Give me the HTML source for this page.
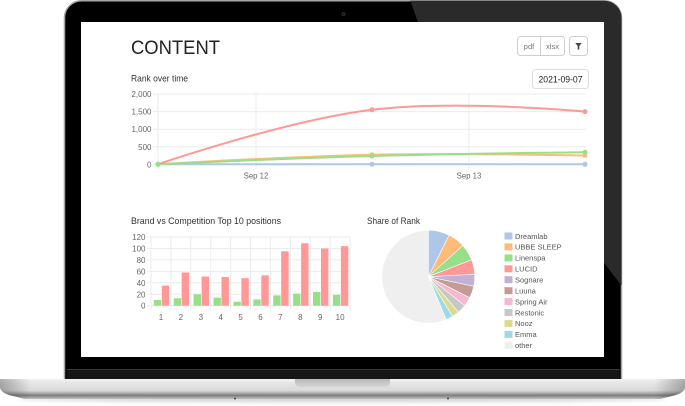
<!DOCTYPE html>
<html>
<head>
<meta charset="utf-8">
<style>
  html,body{margin:0;padding:0;background:#fff;}
  body{width:685px;height:406px;overflow:hidden;}
  svg{display:block;}
  text{font-family:"Liberation Sans", Arial, sans-serif;}
</style>
</head>
<body>
<svg width="685" height="406" viewBox="0 0 685 406" xmlns="http://www.w3.org/2000/svg">
  <defs>
    <clipPath id="lidclip">
      <rect x="64.5" y="0.8" width="557" height="395" rx="17"/>
    </clipPath>
    <linearGradient id="bv" x1="0" y1="0" x2="0" y2="1">
      <stop offset="0" stop-color="#f4f4f4"/>
      <stop offset="0.15" stop-color="#e8e8e8"/>
      <stop offset="0.58" stop-color="#d9d9d9"/>
      <stop offset="0.7" stop-color="#b0b0b0"/>
      <stop offset="0.82" stop-color="#7c7c7c"/>
      <stop offset="1" stop-color="#c4c4c4"/>
    </linearGradient>
    <linearGradient id="bh" x1="0" y1="0" x2="1" y2="0">
      <stop offset="0" stop-color="#000" stop-opacity="0.28"/>
      <stop offset="0.045" stop-color="#000" stop-opacity="0"/>
      <stop offset="0.955" stop-color="#000" stop-opacity="0"/>
      <stop offset="1" stop-color="#000" stop-opacity="0.28"/>
    </linearGradient>
    <linearGradient id="notch" x1="0" y1="0" x2="0" y2="1">
      <stop offset="0" stop-color="#b8b8b8"/>
      <stop offset="1" stop-color="#d6d6d6"/>
    </linearGradient>
    <filter id="blur" x="-10%" y="-200%" width="120%" height="500%">
      <feGaussianBlur stdDeviation="2"/>
    </filter>
  </defs>

  <!-- shadow under base -->
  <ellipse cx="342" cy="399" rx="325" ry="3" fill="#000" opacity="0.18" filter="url(#blur)"/>

  <!-- lid -->
  <rect x="64.5" y="0.8" width="557" height="395" rx="17" fill="#000" stroke="#a6a6a6" stroke-width="1.5"/>
  <g clip-path="url(#lidclip)">
    <polygon points="410,0 625,0 625,290 418,22" fill="#2a2a2a"/>
  </g>
  <!-- camera -->
  <circle cx="343.5" cy="14" r="2" fill="#2c2c2c"/>
  <circle cx="343.5" cy="14" r="0.9" fill="#111"/>
  <!-- hinge -->
  <rect x="66.5" y="369" width="553" height="10" fill="#161616"/>
  <line x1="66.5" y1="369.5" x2="619.5" y2="369.5" stroke="#3a3a3a" stroke-width="1"/>

  <!-- screen -->
  <rect x="81" y="22" width="523" height="335" fill="#fff"/>

  <!-- base -->
  <path d="M0,379 H685 V387 Q685,393 672,396 L660,399 H25 L13,396 Q0,393 0,387 Z" fill="url(#bv)"/>
  <path d="M0,379 H685 V387 Q685,393 672,396 L660,399 H25 L13,396 Q0,393 0,387 Z" fill="url(#bh)"/>
  <path d="M295,379 H390 V382 Q390,387 385,387 H300 Q295,387 295,382 Z" fill="url(#notch)"/>
  <circle cx="235" cy="398.5" r="1" fill="#444"/>
  <circle cx="448" cy="398.5" r="1" fill="#444"/>

  <!-- ============ DASHBOARD ============ -->
  <text x="131" y="54" font-size="19" fill="#222" textLength="89" lengthAdjust="spacingAndGlyphs">CONTENT</text>

  <!-- buttons -->
  <rect x="517.5" y="36.5" width="47" height="19" rx="3" fill="#fff" stroke="#cfcfcf"/>
  <line x1="540.5" y1="36.5" x2="540.5" y2="55.5" stroke="#cfcfcf"/>
  <text x="529" y="49" font-size="7.5" fill="#777" text-anchor="middle">pdf</text>
  <text x="552.5" y="49" font-size="7.5" fill="#777" text-anchor="middle">xlsx</text>
  <rect x="569.5" y="36.5" width="18" height="19" rx="3" fill="#fff" stroke="#cfcfcf"/>
  <polygon points="575.3,43 581.7,43 579.3,46 579.3,49.5 577.7,49.5 577.7,46" fill="#444"/>

  <!-- Rank over time -->
  <text x="131" y="81.5" font-size="9.5" fill="#333" textLength="57" lengthAdjust="spacingAndGlyphs">Rank over time</text>
  <rect x="532.5" y="69.5" width="56" height="19" rx="3" fill="#fff" stroke="#dedede"/>
  <text x="560.5" y="82.3" font-size="9" fill="#222" text-anchor="middle" textLength="44" lengthAdjust="spacingAndGlyphs">2021-09-07</text>

  <g stroke="#ebebeb" stroke-width="1">
    <line x1="153" y1="94" x2="586" y2="94"/>
    <line x1="153" y1="111.6" x2="586" y2="111.6"/>
    <line x1="153" y1="129.2" x2="586" y2="129.2"/>
    <line x1="153" y1="146.8" x2="586" y2="146.8"/>
    <line x1="153" y1="164.3" x2="586" y2="164.3"/>
    <line x1="158" y1="94" x2="158" y2="169"/>
    <line x1="256" y1="94" x2="256" y2="169"/>
    <line x1="469" y1="94" x2="469" y2="169"/>
  </g>
  <g font-size="8" fill="#666" text-anchor="end">
    <text x="151.5" y="97">2,000</text>
    <text x="151.5" y="114.6">1,500</text>
    <text x="151.5" y="132.2">1,000</text>
    <text x="151.5" y="149.8">500</text>
    <text x="151.5" y="167.3">0</text>
  </g>
  <g font-size="7.8" fill="#666" text-anchor="middle">
    <text x="256" y="178.5">Sep 12</text>
    <text x="469" y="178.5">Sep 13</text>
  </g>
  <g fill="none" stroke-width="2">
    <path d="M158,164.3 L585,164.3" stroke="#aec7e8"/>
    <path d="M158,164.3 C158,164.3 286.3,156.5 372,154.7 C457.1,152.95 585,155.5 585,155.5" stroke="#ffbb78"/>
    <path d="M158,164.3 C158,164.3 286.3,158.4 372,156 C457.1,153.6 585,152.3 585,152.3" stroke="#98df8a"/>
    <path d="M158,164.3 C158,164.3 285.1,120.5 372,109.8 C455.9,99.45 585,111.6 585,111.6" stroke="#ff9896"/>
  </g>
  <g>
    <circle cx="158" cy="164.3" r="2.5" fill="#aec7e8"/><circle cx="372" cy="164.3" r="2.5" fill="#aec7e8"/><circle cx="585" cy="164.3" r="2.5" fill="#aec7e8"/>
    <circle cx="372" cy="154.7" r="2.5" fill="#ffbb78"/><circle cx="585" cy="155.5" r="2.5" fill="#ffbb78"/>
    <circle cx="158" cy="164.3" r="2.5" fill="#98df8a"/><circle cx="372" cy="156" r="2.5" fill="#98df8a"/><circle cx="585" cy="152.3" r="2.5" fill="#98df8a"/>
    <circle cx="372" cy="109.8" r="2.5" fill="#ff9896"/><circle cx="585" cy="111.6" r="2.5" fill="#ff9896"/>
  </g>

  <!-- Bar chart -->
  <text x="131" y="224" font-size="9.5" fill="#333" textLength="150" lengthAdjust="spacingAndGlyphs">Brand vs Competition Top 10 positions</text>
  <g stroke="#ebebeb" stroke-width="1">
    <line x1="147" y1="237" x2="350" y2="237"/>
    <line x1="147" y1="248.45" x2="350" y2="248.45"/>
    <line x1="147" y1="259.9" x2="350" y2="259.9"/>
    <line x1="147" y1="271.35" x2="350" y2="271.35"/>
    <line x1="147" y1="282.8" x2="350" y2="282.8"/>
    <line x1="147" y1="294.25" x2="350" y2="294.25"/>
    <line x1="147" y1="305.7" x2="350" y2="305.7"/>
    <line x1="151" y1="237" x2="151" y2="310"/>
    <line x1="170.9" y1="237" x2="170.9" y2="310"/>
    <line x1="190.8" y1="237" x2="190.8" y2="310"/>
    <line x1="210.7" y1="237" x2="210.7" y2="310"/>
    <line x1="230.6" y1="237" x2="230.6" y2="310"/>
    <line x1="250.5" y1="237" x2="250.5" y2="310"/>
    <line x1="270.4" y1="237" x2="270.4" y2="310"/>
    <line x1="290.3" y1="237" x2="290.3" y2="310"/>
    <line x1="310.2" y1="237" x2="310.2" y2="310"/>
    <line x1="330.1" y1="237" x2="330.1" y2="310"/>
    <line x1="350" y1="237" x2="350" y2="310"/>
  </g>
  <g font-size="8" fill="#666" text-anchor="end">
    <text x="145.5" y="240">120</text>
    <text x="145.5" y="251.45">100</text>
    <text x="145.5" y="262.9">80</text>
    <text x="145.5" y="274.35">60</text>
    <text x="145.5" y="285.8">40</text>
    <text x="145.5" y="297.25">20</text>
    <text x="145.5" y="308.7">0</text>
  </g>
  <g fill="#98df8a">
    <rect x="153.8" y="299.97" width="7.4" height="5.73"/>
    <rect x="173.7" y="298.26" width="7.4" height="7.44"/>
    <rect x="193.6" y="294.25" width="7.4" height="11.45"/>
    <rect x="213.5" y="297.68" width="7.4" height="8.02"/>
    <rect x="233.4" y="301.69" width="7.4" height="4.01"/>
    <rect x="253.3" y="299.40" width="7.4" height="6.30"/>
    <rect x="273.2" y="295.39" width="7.4" height="10.31"/>
    <rect x="293.1" y="293.68" width="7.4" height="12.02"/>
    <rect x="313.0" y="291.96" width="7.4" height="13.74"/>
    <rect x="332.9" y="294.82" width="7.4" height="10.88"/>
  </g>
  <g fill="#ff9896">
    <rect x="161.8" y="285.66" width="7.4" height="20.04"/>
    <rect x="181.7" y="272.49" width="7.4" height="33.21"/>
    <rect x="201.6" y="276.50" width="7.4" height="29.20"/>
    <rect x="221.5" y="277.07" width="7.4" height="28.63"/>
    <rect x="241.4" y="278.22" width="7.4" height="27.48"/>
    <rect x="261.3" y="275.36" width="7.4" height="30.34"/>
    <rect x="281.2" y="251.31" width="7.4" height="54.39"/>
    <rect x="301.1" y="243.30" width="7.4" height="62.40"/>
    <rect x="321.0" y="248.45" width="7.4" height="57.25"/>
    <rect x="340.9" y="246.16" width="7.4" height="59.54"/>
  </g>
  <g font-size="8" fill="#666" text-anchor="middle">
    <text x="161" y="320">1</text>
    <text x="180.9" y="320">2</text>
    <text x="200.8" y="320">3</text>
    <text x="220.7" y="320">4</text>
    <text x="240.6" y="320">5</text>
    <text x="260.5" y="320">6</text>
    <text x="280.4" y="320">7</text>
    <text x="300.3" y="320">8</text>
    <text x="320.2" y="320">9</text>
    <text x="340.1" y="320">10</text>
  </g>

  <!-- Pie -->
  <text x="367" y="224" font-size="9.5" fill="#333" textLength="53" lengthAdjust="spacingAndGlyphs">Share of Rank</text>
  <g stroke="#fff" stroke-width="0.6">
    <path d="M428.3,276.7 L428.3,230.2 A46.5,46.5 0 0,1 449.12,235.12 Z" fill="#aec7e8"/>
    <path d="M428.3,276.7 L449.12,235.12 A46.5,46.5 0 0,1 462.86,245.59 Z" fill="#ffbb78"/>
    <path d="M428.3,276.7 L462.86,245.59 A46.5,46.5 0 0,1 471.60,259.73 Z" fill="#98df8a"/>
    <path d="M428.3,276.7 L471.60,259.73 A46.5,46.5 0 0,1 474.74,274.27 Z" fill="#ff9896"/>
    <path d="M428.3,276.7 L474.74,274.27 A46.5,46.5 0 0,1 473.78,286.37 Z" fill="#c5b0d5"/>
    <path d="M428.3,276.7 L473.78,286.37 A46.5,46.5 0 0,1 469.73,297.81 Z" fill="#c49c94"/>
    <path d="M428.3,276.7 L469.73,297.81 A46.5,46.5 0 0,1 464.69,305.65 Z" fill="#f7b6d2"/>
    <path d="M428.3,276.7 L464.69,305.65 A46.5,46.5 0 0,1 458.38,312.17 Z" fill="#c7c7c7"/>
    <path d="M428.3,276.7 L458.38,312.17 A46.5,46.5 0 0,1 452.53,316.39 Z" fill="#dbdb8d"/>
    <path d="M428.3,276.7 L452.53,316.39 A46.5,46.5 0 0,1 446.17,319.63 Z" fill="#9edae5"/>
    <path d="M428.3,276.7 L446.17,319.63 A46.5,46.5 0 1,1 428.3,230.2 Z" fill="#efefef"/>
  </g>

  <!-- Legend -->
  <g>
    <rect x="504.5" y="232.5" width="8" height="7" fill="#aec7e8"/>
    <rect x="504.5" y="243.4" width="8" height="7" fill="#ffbb78"/>
    <rect x="504.5" y="254.4" width="8" height="7" fill="#98df8a"/>
    <rect x="504.5" y="265.3" width="8" height="7" fill="#ff9896"/>
    <rect x="504.5" y="276.2" width="8" height="7" fill="#c5b0d5"/>
    <rect x="504.5" y="287.2" width="8" height="7" fill="#c49c94"/>
    <rect x="504.5" y="298.1" width="8" height="7" fill="#f7b6d2"/>
    <rect x="504.5" y="309.0" width="8" height="7" fill="#c7c7c7"/>
    <rect x="504.5" y="319.9" width="8" height="7" fill="#dbdb8d"/>
    <rect x="504.5" y="330.9" width="8" height="7" fill="#9edae5"/>
    <rect x="504.5" y="341.8" width="8" height="7" fill="#efefef"/>
  </g>
  <g font-size="7.5" fill="#555">
    <text x="515" y="238.8">Dreamlab</text>
    <text x="515" y="249.7">UBBE SLEEP</text>
    <text x="515" y="260.7">Linenspa</text>
    <text x="515" y="271.6">LUCID</text>
    <text x="515" y="282.5">Sognare</text>
    <text x="515" y="293.5">Luuna</text>
    <text x="515" y="304.4">Spring Air</text>
    <text x="515" y="315.3">Restonic</text>
    <text x="515" y="326.2">Nooz</text>
    <text x="515" y="337.2">Emma</text>
    <text x="515" y="348.1">other</text>
  </g>
</svg>
</body>
</html>
